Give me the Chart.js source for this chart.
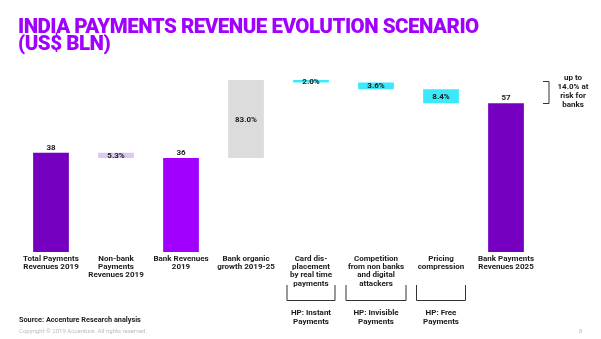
<!DOCTYPE html>
<html>
<head>
<meta charset="utf-8">
<script src="https://cdn.jsdelivr.net/npm/chart.js@4"></script>
<style>
  html, body { margin: 0; padding: 0; background: #fff; }
  #wrap { position: relative; width: 601px; height: 339px; overflow: hidden; }
  #title { position: absolute; left: 18px; top: 18px; font-family: Roboto, "Liberation Sans", sans-serif; font-weight: 900; font-size: 20.5px; line-height: 17px; color: #a100ff; letter-spacing: -0.5px; white-space: nowrap; }
  #source { position: absolute; left: 19px; top: 315px; font-family: Roboto, sans-serif; font-weight: 700; font-size: 7.3px; color: #222; }
  #copy { position: absolute; left: 19px; top: 327px; font-family: Roboto, sans-serif; font-size: 6px; color: #bbb; }
  #page { position: absolute; left: 579px; top: 327px; font-family: Roboto, sans-serif; font-size: 6px; color: #bbb; }
  canvas { position: absolute; left: 0; top: 0; }
</style>
</head>
<body>
<div id="wrap">
  <canvas id="c" width="601" height="339"></canvas>
  <div id="title">INDIA PAYMENTS REVENUE EVOLUTION SCENARIO<br>(US$ BLN)</div>
  <div id="source">Source: Accenture Research analysis</div>
  <div id="copy">Copyright © 2019 Accenture. All rights reserved.</div>
  <div id="page">8</div>
</div>
<script>
const categories = [
  ["Total Payments", "Revenues 2019"],
  ["Non-bank", "Payments", "Revenues 2019"],
  ["Bank Revenues", "2019"],
  ["Bank organic", "growth 2019-25"],
  ["Card dis-", "placement", "by real time", "payments"],
  ["Competition", "from non banks", "and digital", "attackers"],
  ["Pricing", "compression"],
  ["Bank Payments", "Revenues 2025"]
];
const barStart = [0, 36, 0, 36, 64.9, 62.4, 57, 0];
const barEnd   = [38, 38, 36, 65.9, 65.9, 64.9, 62.4, 57];
const valueLabels = ["38", "5.3%", "36", "83.0%", "2.0%", "3.6%", "8.4%", "57"];
const labelAbove = [true, false, true, false, false, false, false, true];
const barColors = ["#7500c0", "#dcc8f2", "#a100ff", "#dcdcdc", "#3aeafa", "#3aeafa", "#3aeafa", "#7500c0"];
const hypotheses = [
  { index: 4, lines: ["HP: Instant", "Payments"] },
  { index: 5, lines: ["HP: Invisible", "Payments"] },
  { index: 6, lines: ["HP: Free", "Payments"] }
];
const riskNote = ["up to", "14.0% at", "risk for", "banks"];
const riskRange = [57, 64.9];

const FONT = 'Roboto, "Liberation Sans", sans-serif';
const bracketHalf = [24.5, 30.5, 25];

const annotate = {
  id: 'annotate',
  afterDatasetsDraw(chart) {
    const ctx = chart.ctx;
    const meta = chart.getDatasetMeta(0);
    const x = chart.scales.x, y = chart.scales.y;
    ctx.save();
    ctx.fillStyle = '#1a1a1a';
    ctx.font = '700 8px ' + FONT;
    ctx.textAlign = 'center';
    meta.data.forEach((bar, i) => {
      const top = Math.min(bar.y, bar.base), bot = Math.max(bar.y, bar.base);
      if (labelAbove[i]) {
        ctx.textBaseline = 'bottom';
        ctx.fillText(valueLabels[i], bar.x, top - 1);
      } else {
        ctx.textBaseline = 'middle';
        ctx.fillText(valueLabels[i], bar.x, (top + bot) / 2 + 0.5);
      }
    });
    ctx.strokeStyle = '#333';
    ctx.lineWidth = 1;
    hypotheses.forEach((h, k) => {
      const cx = x.getPixelForValue(h.index);
      const hw = bracketHalf[k];
      ctx.beginPath();
      ctx.moveTo(cx - hw + 0.5, 285);
      ctx.lineTo(cx - hw + 0.5, 300.5);
      ctx.lineTo(cx + hw - 0.5, 300.5);
      ctx.lineTo(cx + hw - 0.5, 285);
      ctx.stroke();
      ctx.font = '700 8px ' + FONT;
      ctx.textBaseline = 'middle';
      h.lines.forEach((t, j) => ctx.fillText(t, cx, 313 + j * 9));
    });
    const y1 = y.getPixelForValue(riskRange[1]), y2 = y.getPixelForValue(riskRange[0]);
    const bx = chart.chartArea.right + 4.5;
    ctx.beginPath();
    ctx.moveTo(bx, Math.round(y1) - 1.5);
    ctx.lineTo(bx + 6, Math.round(y1) - 1.5);
    ctx.lineTo(bx + 6, Math.round(y2) + 0.5);
    ctx.lineTo(bx, Math.round(y2) + 0.5);
    ctx.stroke();
    ctx.textBaseline = 'middle';
    riskNote.forEach((t, j) => ctx.fillText(t, 573, 77.5 + j * 9));
    ctx.restore();
  }
};

new Chart(document.getElementById('c'), {
  type: 'bar',
  data: {
    labels: categories,
    datasets: [{
      data: barStart.map((s, i) => [s, barEnd[i]]),
      backgroundColor: barColors,
      borderWidth: 0,
      barPercentage: 0.55,
      categoryPercentage: 1
    }]
  },
  options: {
    responsive: false,
    animation: false,
    events: [],
    layout: { padding: { left: 18.5, right: 62.5, top: 69.3, bottom: 0 } },
    plugins: { legend: { display: false }, tooltip: { enabled: false }, title: { display: false } },
    scales: {
      x: {
        grid: { display: false, drawTicks: false },
        border: { display: false },
        ticks: { color: '#1a1a1a', font: { family: FONT, size: 8, weight: '700', lineHeight: 1.02 }, padding: 3, maxRotation: 0, autoSkip: false },
        afterFit(scale) { scale.height = 87; }
      },
      y: { display: false, min: 0, max: 70 }
    }
  },
  plugins: [annotate]
});
</script>
</body>
</html>
